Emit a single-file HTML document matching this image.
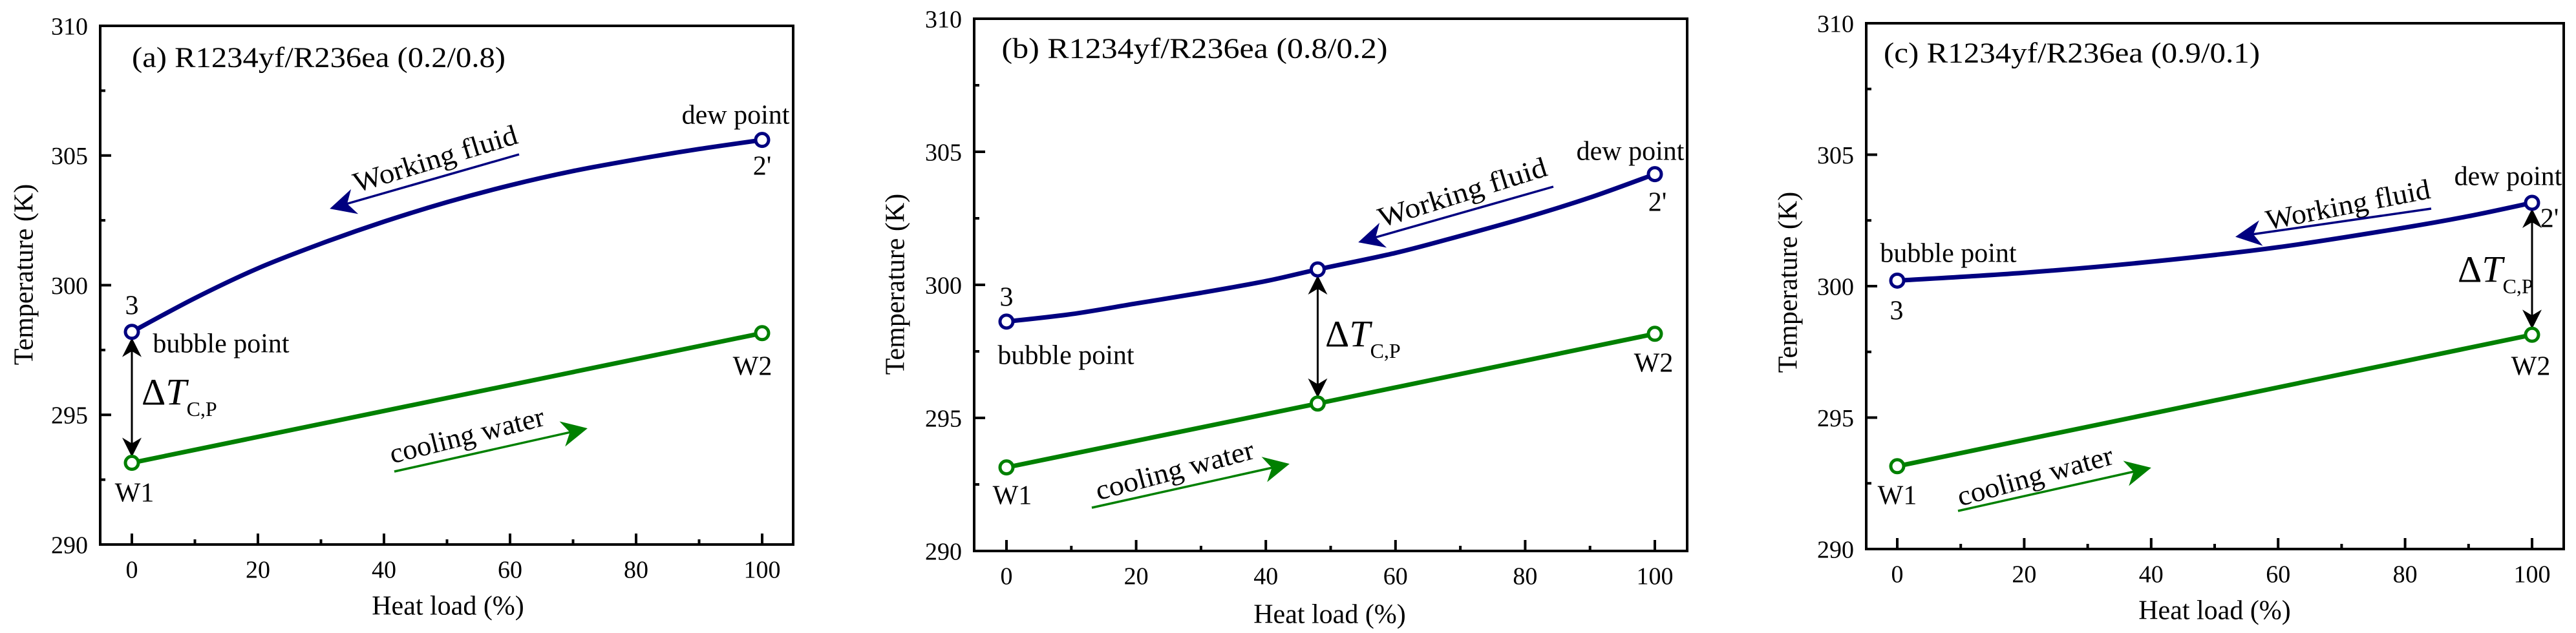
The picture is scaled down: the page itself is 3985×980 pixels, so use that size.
<!DOCTYPE html>
<html><head><meta charset="utf-8">
<style>
html,body{margin:0;padding:0;background:#fff;}
svg{display:block;}
text{font-family:"Liberation Serif","Times New Roman",serif;fill:#000;}
</style></head>
<body>
<svg id="fig" width="3985" height="980" viewBox="0 0 3985 980" xmlns="http://www.w3.org/2000/svg"></svg>
<script>
// ---- data ----
const xTicks = [0, 20, 40, 60, 80, 100];
const yTicks = [290, 295, 300, 305, 310];
const aFluidX = [0, 10, 20, 30, 40, 50, 60, 70, 80, 90, 100];
const aFluidT = [298.2, 299.5, 300.65, 301.6, 302.45, 303.2, 303.85, 304.4, 304.85, 305.25, 305.6];
const aFluidMarkX = [0, 100];
const aFluidMarkT = [298.2, 305.6];
const aWaterX = [0, 100];
const aWaterT = [293.15, 298.15];
const bFluidX = [0, 10, 20, 30, 40, 48, 60, 70, 80, 90, 100];
const bFluidT = [298.62, 298.9, 299.3, 299.7, 300.14, 300.58, 301.2, 301.84, 302.52, 303.28, 304.16];
const bFluidMarkX = [0, 48, 100];
const bFluidMarkT = [298.62, 300.58, 304.16];
const bWaterX = [0, 48, 100];
const bWaterT = [293.14, 295.54, 298.16];
const cFluidX = [0, 20, 40, 60, 80, 90, 100];
const cFluidT = [300.21, 300.51, 300.93, 301.48, 302.23, 302.66, 303.17];
const cFluidMarkX = [0, 100];
const cFluidMarkT = [300.21, 303.17];
const cWaterX = [0, 100];
const cWaterT = [293.15, 298.15];

const NS = "http://www.w3.org/2000/svg";
const svg = document.getElementById('fig');
function mk(tag, attrs, parent){
  const e = document.createElementNS(NS, tag);
  for (const k in attrs) e.setAttribute(k, attrs[k]);
  (parent||svg).appendChild(e);
  return e;
}
const defs = mk('defs', {});
function marker(id, color, size){
  const m = mk('marker', {id:id, viewBox:'0 0 10 10', refX:'9', refY:'5', markerWidth:size, markerHeight:size, orient:'auto-start-reverse', markerUnits:'userSpaceOnUse'}, defs);
  mk('path', {d:'M0,0 L10,5 L0,10 L3,5 Z', fill:color}, m);
}
marker('hNavy', '#000080', 40);
marker('hGreen', '#008000', 40);
marker('hBlack', '#000', 30);

function txt(g, s, x, y, size, name, extra){
  const t = mk('text', Object.assign({x:x, y:y, 'font-size':size, 'text-anchor':'middle', dy:'0.35em'}, extra||{}), g);
  t.textContent = s;
  
  
  return t;
}
function smoothPath(pts){
  let d = 'M' + pts[0][0] + ',' + pts[0][1];
  for (let i = 0; i < pts.length - 1; i++) {
    const p0 = pts[i-1] || pts[i], p1 = pts[i], p2 = pts[i+1], p3 = pts[i+2] || p2;
    const c1x = p1[0] + (p2[0]-p0[0])/6, c1y = p1[1] + (p2[1]-p0[1])/6;
    const c2x = p2[0] - (p3[0]-p1[0])/6, c2y = p2[1] - (p3[1]-p1[1])/6;
    d += ' C' + c1x + ',' + c1y + ' ' + c2x + ',' + c2y + ' ' + p2[0] + ',' + p2[1];
  }
  return d;
}

const panels = [
 {id:'a', L:155, R:1227, T:40, B:843, x0:204, x100:1179,
  fx:aFluidX, ft:aFluidT, mx:aFluidMarkX, mt:aFluidMarkT, wx:aWaterX, wt:aWaterT,
  title:'(a) R1234yf/R236ea (0.2/0.8)', titleX:493, titleY:88, titleW:578,
  yTitleX:36, yTitleY:425, xTitleX:693, xTitleY:937,
  labels:[['3',204,472],['bubble point',342,531],['dew point',1138,177],["2'",1179,256],['W2',1164,566],['W1',208,762]],
  dX:0, dFrom:298.2, dTo:293.15, dtX:219, dtY:606,
  wf:{cx:673,cy:245,ang:-17,len:263}, wfA:[803,239,514,322],
  cw:{cx:722,cy:673,ang:-14,len:245}, cwA:[610,730,905,664]},
 {id:'b', L:1507, R:2610, T:29, B:853, x0:1557, x100:2560,
  fx:bFluidX, ft:bFluidT, mx:bFluidMarkX, mt:bFluidMarkT, wx:bWaterX, wt:bWaterT,
  title:'(b) R1234yf/R236ea (0.8/0.2)', titleX:1848, titleY:74, titleW:597,
  yTitleX:1384, yTitleY:440, xTitleX:2057, xTitleY:950,
  labels:[['3',1557,459],['bubble point',1649,549],['dew point',2522,233],["2'",2564,312],['W2',2558,561],['W1',1566,766]],
  dX:48, dFrom:300.58, dTo:295.54, dtX:2050, dtY:516,
  wf:{cx:2262,cy:297,ang:-17.4,len:271}, wfA:[2403,289,2105,374],
  cw:{cx:1817,cy:727,ang:-15,len:252}, cwA:[1689,786,1991,719]},
 {id:'c', L:2887, R:3966, T:36, B:850, x0:2935, x100:3917,
  fx:cFluidX, ft:cFluidT, mx:cFluidMarkX, mt:cFluidMarkT, wx:cWaterX, wt:cWaterT,
  title:'(c) R1234yf/R236ea (0.9/0.1)', titleX:3205, titleY:81, titleW:582,
  yTitleX:2765, yTitleY:437, xTitleX:3426, xTitleY:944,
  labels:[['bubble point',3014,391],['3',2934,480],['dew point',3880,272],["2'",3944,337],['W2',3915,566],['W1',2935,766]],
  dX:100, dFrom:303.17, dTo:298.15, dtX:3802, dtY:416,
  wf:{cx:3632,cy:316,ang:-11,len:258}, wfA:[3761,323,3462,366],
  cw:{cx:3148,cy:736,ang:-15.4,len:248}, cwA:[3029,791,3324,725]}
];

panels.forEach(p => {
  const g = mk('g', {});
  
  
  const xs = v => p.x0 + (p.x100 - p.x0) * v / 100;
  const ys = v => p.B - (p.B - p.T) * (v - 290) / 20;

  for (let v = 290; v <= 310; v += 2.5) {
    const major = (v % 5 === 0);
    const tk = mk('line', {x1:p.L, x2:p.L + (major?17:8), y1:ys(v), y2:ys(v), stroke:'#000', 'stroke-width':4}, g);
    
    
  }
  for (let v = 0; v <= 100; v += 10) {
    const major = (v % 20 === 0);
    const tk = mk('line', {x1:xs(v), x2:xs(v), y1:p.B, y2:p.B - (major?17:8), stroke:'#000', 'stroke-width':4}, g);
    
    
  }
  yTicks.forEach(v => txt(g, String(v), p.L - 19, ys(v), 38, 'y-tick-label', {'text-anchor':'end'}));
  xTicks.forEach(v => txt(g, String(v), xs(v), p.B + 38, 38, 'x-tick-label'));

  const fr = mk('rect', {x:p.L, y:p.T, width:p.R - p.L, height:p.B - p.T, fill:'none', stroke:'#000', 'stroke-width':4}, g);
  
  

  txt(g, p.title, p.titleX, p.titleY, 44, 'panel-title', {textLength:p.titleW, lengthAdjust:'spacingAndGlyphs'});
  txt(g, 'Heat load (%)', p.xTitleX, p.xTitleY, 42, 'x-axis-title');
  txt(g, 'Temperature (K)', p.yTitleX, p.yTitleY, 42, 'y-axis-title', {transform:'rotate(-90 ' + p.yTitleX + ' ' + p.yTitleY + ')'});

  const wp = p.wx.map((x,i) => xs(x) + ',' + ys(p.wt[i])).join(' ');
  const wl = mk('polyline', {points:wp, fill:'none', stroke:'#008000', 'stroke-width':7, 'stroke-linejoin':'round'}, g);
  
  
  const fpts = p.fx.map((x,i) => [xs(x), ys(p.ft[i])]);
  const fl = mk('path', {d:smoothPath(fpts), fill:'none', stroke:'#000080', 'stroke-width':7, 'stroke-linejoin':'round'}, g);
  
  

  const da = mk('line', {x1:xs(p.dX), x2:xs(p.dX), y1:ys(p.dFrom) + 12, y2:ys(p.dTo) - 12, stroke:'#000', 'stroke-width':3, 'marker-start':'url(#hBlack)', 'marker-end':'url(#hBlack)'}, g);
  
  

  p.wx.forEach((x,i) => {
    const c = mk('circle', {cx:xs(x), cy:ys(p.wt[i]), r:10, fill:'#fff', stroke:'#008000', 'stroke-width':5}, g);
    
    
  });
  p.mx.forEach((x,i) => {
    const c = mk('circle', {cx:xs(x), cy:ys(p.mt[i]), r:10, fill:'#fff', stroke:'#000080', 'stroke-width':5}, g);
    
    
  });

  p.labels.forEach(l => txt(g, l[0], l[1], l[2], 42, 'point-label'));
  const dt = mk('text', {x:p.dtX, y:p.dtY, 'font-size':58, dy:'0.35em'}, g);
  
  
  const s1 = mk('tspan', {}, dt); s1.textContent = 'Δ';
  const s2 = mk('tspan', {'font-style':'italic'}, dt); s2.textContent = 'T';
  const s3 = mk('tspan', {'font-size':32, dy:'0.55em'}, dt); s3.textContent = 'C,P';

  txt(g, 'Working fluid', p.wf.cx, p.wf.cy, 44, 'working-fluid-label', {textLength:p.wf.len, lengthAdjust:'spacingAndGlyphs', transform:'rotate(' + p.wf.ang + ' ' + p.wf.cx + ' ' + p.wf.cy + ')'});
  txt(g, 'cooling water', p.cw.cx, p.cw.cy, 44, 'cooling-water-label', {textLength:p.cw.len, lengthAdjust:'spacingAndGlyphs', transform:'rotate(' + p.cw.ang + ' ' + p.cw.cx + ' ' + p.cw.cy + ')'});
  const a1 = mk('line', {x1:p.wfA[0], y1:p.wfA[1], x2:p.wfA[2], y2:p.wfA[3], stroke:'#000080', 'stroke-width':3.5, 'marker-end':'url(#hNavy)'}, g);
  
  
  const a2 = mk('line', {x1:p.cwA[0], y1:p.cwA[1], x2:p.cwA[2], y2:p.cwA[3], stroke:'#008000', 'stroke-width':3.5, 'marker-end':'url(#hGreen)'}, g);
  
  
});
</script>
</body></html>
